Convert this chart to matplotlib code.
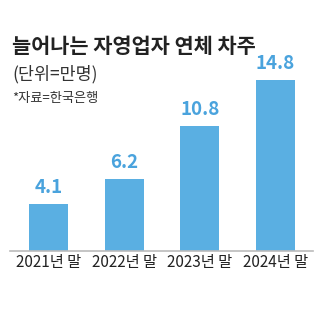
import matplotlib
matplotlib.use('Agg')
import matplotlib.pyplot as plt

plt.rcParams['font.family'] = ['Noto Sans CJK KR', 'DejaVu Sans']

years = ['2021년 말', '2022년 말', '2023년 말', '2024년 말']
values = [4.1, 6.2, 10.8, 14.8]
title = '늘어나는 자영업자 연체 차주'
unit = '(단위=만명)'
source = '*자료=한국은행'

BAR = '#5aafe2'
LABEL = '#4aa3dd'

W, H = 323, 332
fig = plt.figure(figsize=(W / 100, H / 100), dpi=100)
fig.patch.set_facecolor('white')

# axes in pixel terms: x 10..313, baseline at y=251, top at y=40
ax = fig.add_axes([10 / W, (H - 251) / H, 303 / W, 211 / H])
x = list(range(len(years)))
ax.bar(x, values, width=0.515, color=BAR, zorder=2)
for xi, v in zip(x, values):
    ax.annotate(f'{v:.1f}', (xi, v), xytext=(0, 5), textcoords='offset points',
                ha='center', va='bottom', fontsize=13.5, fontweight='bold',
                color=LABEL)

ax.set_xlim(-0.509, 3.495)
ax.set_ylim(0, 18.26)
ax.set_xticks(x)
ax.set_xticklabels(years, fontsize=11, color='#222222')
ax.tick_params(axis='x', length=0, pad=2.5)
ax.set_yticks([])
for s in ['top', 'left', 'right']:
    ax.spines[s].set_visible(False)
ax.spines['bottom'].set_color('#bbbbbb')
ax.spines['bottom'].set_linewidth(1.2)
ax.set_facecolor('none')

fig.text(12 / W, 1 - 46.5 / H, title, fontsize=15, fontweight='bold',
         color='#222222', ha='left', va='center')
fig.text(12 / W, 1 - 74 / H, unit, fontsize=12.5, color='#333333',
         ha='left', va='center')
fig.text(12 / W, 1 - 99 / H, source, fontsize=9.5, color='#333333',
         ha='left', va='center')

fig.savefig('out.png', dpi=100, facecolor='white')
